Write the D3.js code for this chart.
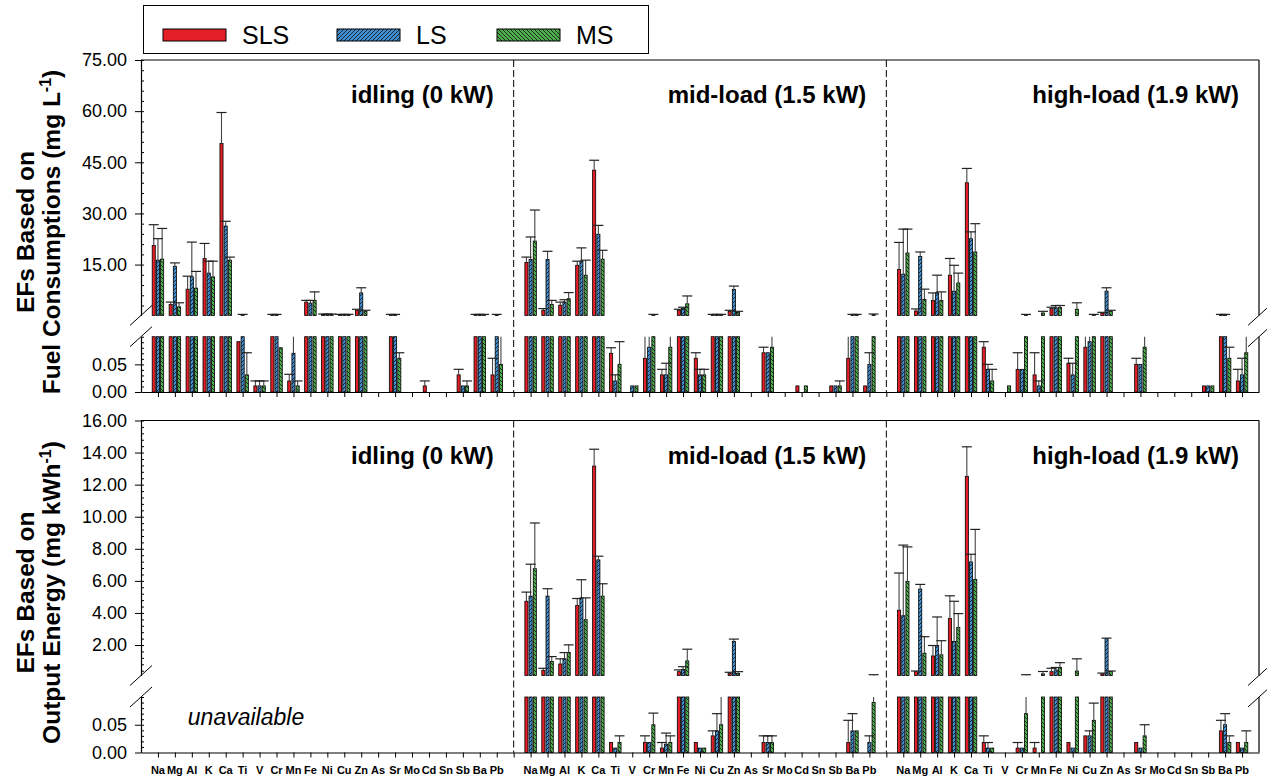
<!DOCTYPE html>
<html>
<head>
<meta charset="utf-8">
<script src="https://cdn.jsdelivr.net/npm/d3@7"></script>
<style>
body { margin: 0; background: #fff; }
svg { display: block; font-family: Arial, "Liberation Sans", sans-serif; }
</style>
</head>
<body>
<div id="chart"></div>
<script>
var width = 1267;
var height = 778;

var elements = ["Na","Mg","Al","K","Ca","Ti","V","Cr","Mn","Fe","Ni","Cu","Zn","As","Sr","Mo","Cd","Sn","Sb","Ba","Pb"];
var loads = ["idling (0 kW)", "mid-load (1.5 kW)", "high-load (1.9 kW)"];
var seriesNames = ["SLS", "LS", "MS"];

// EFs based on fuel consumption (mg L-1): mean and error (sd)
var fuelIdleSLS   = [20.6, 3.3, 7.8, 16.8, 50.5, 0.091, 0.011, 0.3, 0.02, 4.0, 0.4, 0.3, 1.6, 0, 0.3, 0, 0.011, 0, 0.031, 0.3, 0.031];
var fuelIdleSLSsd = [6.1, 0.7, 3.8, 4.4, 9.1, 0, 0.009, 0.1, 0.012, 0.5, 0.1, 0.1, 0.3, 0, 0.1, 0, 0.009, 0, 0.01, 0.1, 0.03];
var fuelIdleLS    = [16.3, 14.5, 11.4, 12.5, 26.3, 0.3, 0.011, 0.3, 0.07, 3.7, 0.4, 0.3, 6.7, 0, 0.3, 0, 0, 0, 0.011, 0.3, 0.3];
var fuelIdleLSsd  = [6.3, 1.0, 10.2, 3.5, 1.4, 0.1, 0.009, 0.1, 0.03, 0.8, 0.1, 0.1, 1.5, 0, 0.1, 0, 0, 0, 0, 0.1, 0.1];
var fuelIdleMS    = [16.6, 2.6, 8.1, 11.4, 16.3, 0.031, 0.011, 0.08, 0.011, 4.5, 0.4, 0.3, 1.3, 0, 0.061, 0, 0, 0, 0.011, 0.3, 0.05];
var fuelIdleMSsd  = [9.0, 1.2, 4.9, 4.6, 0.9, 0.04, 0.009, 0, 0.009, 2.5, 0.1, 0.1, 0.3, 0, 0.01, 0, 0, 0, 0.009, 0.1, 0.05];

var fuelMidSLS   = [15.6, 1.6, 3.1, 14.8, 42.7, 0.07, 0, 0.061, 0.031, 1.6, 0.061, 0.3, 1.3, 0, 0.071, 0, 0.011, 0, 0.011, 0.061, 0.011];
var fuelMidSLSsd = [1.6, 0.5, 0.9, 1.2, 2.9, 0.01, 0, 0.039, 0.01, 0.3, 0.01, 0.1, 0.3, 0, 0.01, 0, 0, 0, 0, 0.039, 0];
var fuelMidLS    = [16.5, 16.5, 4.0, 16.0, 23.9, 0.02, 0.011, 0.081, 0.031, 2.1, 0.031, 0.3, 7.7, 0, 0.071, 0, 0, 0, 0.011, 0.3, 0.05];
var fuelMidLSsd  = [6.6, 2.4, 0.7, 3.9, 2.6, 0.011, 0, 0.019, 0.021, 0.4, 0.01, 0.1, 1.0, 0, 0, 0, 0, 0, 0, 0.1, 0.021];
var fuelMidMS    = [21.9, 3.3, 5.0, 11.9, 16.6, 0.05, 0.011, 0.3, 0.081, 3.5, 0.031, 0.3, 1.0, 0, 0.081, 0, 0.011, 0, 0.011, 0.3, 0.4];
var fuelMidMSsd  = [9.1, 1.2, 1.8, 4.4, 2.6, 0.041, 0, 0.1, 0.019, 2.3, 0.01, 0.1, 0.3, 0, 0.019, 0, 0, 0, 0.009, 0.1, 0.1];

var fuelHighSLS   = [13.6, 1.4, 4.5, 11.9, 39.0, 0.081, 0, 0.041, 0.031, 2.1, 0.052, 0.081, 0.8, 0, 0.05, 0, 0, 0, 0.011, 0.3, 0.02];
var fuelHighSLSsd = [7.9, 0.6, 2.2, 4.9, 4.2, 0.01, 0, 0.03, 0.04, 0.4, 0.009, 0.019, 0.2, 0, 0.011, 0, 0, 0, 0, 0.1, 0.021];
var fuelHighLS    = [12.2, 17.4, 6.7, 7.2, 22.6, 0.041, 0, 0.041, 0.011, 2.3, 0.031, 0.091, 7.2, 0, 0.05, 0, 0, 0, 0.011, 0.3, 0.031];
var fuelHighLSsd  = [13.2, 1.3, 5.2, 7.6, 2.0, 0.009, 0, 0, 0.009, 0.7, 0.021, 0.009, 1.0, 0, 0, 0, 0, 0, 0, 0.1, 0.03];
var fuelHighMS    = [18.4, 4.8, 4.5, 9.6, 18.7, 0.02, 0.011, 0.3, 0.8, 2.4, 1.9, 0.3, 1.3, 0, 0.081, 0, 0, 0, 0.011, 0.061, 0.071];
var fuelHighMSsd  = [7.0, 3.0, 2.5, 2.9, 8.3, 0.021, 0, 0.1, 0.5, 0.6, 1.9, 0.1, 0.3, 0, 0.019, 0, 0, 0, 0, 0.02, 0.029];

// EFs based on output energy (mg kWh-1); idling is unavailable
var energyMidSLS   = [4.73, 0.42, 0.82, 4.46, 13.16, 0.018, 0, 0.018, 0.008, 0.34, 0.018, 0.03, 0.23, 0, 0.018, 0, 0, 0, 0, 0.018, 0];
var energyMidSLSsd = [0.57, 0.13, 0.32, 0.44, 1.05, 0, 0, 0.012, 0.01, 0.11, 0, 0.009, 0.07, 0, 0.012, 0, 0, 0, 0, 0.04, 0];
var energyMidLS    = [5.05, 5.05, 1.14, 4.94, 7.31, 0.008, 0, 0.018, 0.015, 0.48, 0.008, 0.039, 2.22, 0, 0.018, 0, 0, 0, 0, 0.039, 0.018];
var energyMidLSsd  = [1.99, 0.46, 0.39, 1.13, 0.23, 0, 0, 0, 0.02, 0.17, 0, 0.031, 0.15, 0, 0.012, 0, 0, 0, 0, 0.031, 0.012];
var energyMidMS    = [6.76, 0.97, 1.53, 3.58, 5.05, 0.018, 0, 0.05, 0.018, 1.01, 0.008, 0.05, 0.23, 0, 0.018, 0, 0, 0, 0, 0.039, 0.09];
var energyMidMSsd  = [2.85, 0.31, 0.48, 1.36, 0.77, 0.012, 0, 0.021, 0.012, 0.73, 0, 0.05, 0.11, 0, 0.012, 0, 0, 0, 0, 0, 0.06];

var energyHighSLS   = [4.17, 0.34, 1.32, 3.65, 12.52, 0.018, 0, 0.008, 0.008, 0.34, 0.018, 0.03, 0.2, 0, 0.018, 0, 0, 0, 0, 0.039, 0.018];
var energyHighSLSsd = [2.32, 0.04, 0.65, 1.42, 1.84, 0.012, 0, 0.01, 0.01, 0.21, 0, 0, 0.05, 0, 0, 0, 0, 0, 0, 0.019, 0];
var energyHighLS    = [3.83, 5.49, 1.97, 2.22, 7.18, 0.008, 0, 0.008, 0, 0.45, 0.008, 0.03, 2.39, 0, 0.008, 0, 0, 0, 0, 0.05, 0.008];
var energyHighLSsd  = [4.4, 0.29, 1.78, 2.51, 0.48, 0.01, 0, 0, 0, 0.15, 0, 0.009, 0.04, 0, 0, 0, 0, 0, 0, 0.02, 0];
var energyHighMS    = [5.97, 1.49, 1.39, 3.10, 6.09, 0.008, 0, 0.07, 0.2, 0.6, 0.38, 0.058, 0.35, 0, 0.03, 0, 0, 0, 0, 0.018, 0.018];
var energyHighMSsd  = [2.15, 1.03, 0.88, 0.86, 3.12, 0, 0, 0.08, 0.15, 0.3, 0.76, 0.031, 0.03, 0, 0.02, 0, 0, 0, 0, 0.012, 0.021];

var fuelTicks = [15, 30, 45, 60, 75];
var energyTicks = [2, 4, 6, 8, 10, 12, 14, 16];
var lowTicks = [0, 0.05];
var breakValue = 0.1;

var svg = d3.select("#chart")
	.append("svg")
	.attr("width", width)
	.attr("height", height);

// fills: solid red, hatched blue, hatched green
var defs = svg.append("defs");
function hatch(id, color, d) {
	var p = defs.append("pattern")
		.attr("id", id)
		.attr("patternUnits", "userSpaceOnUse")
		.attr("width", 4)
		.attr("height", 4);
	p.append("rect").attr("width", 4).attr("height", 4).attr("fill", color);
	p.append("path").attr("d", d).attr("stroke", "#1a1a1a").attr("stroke-width", 0.9);
}
hatch("hatchLS", "#3d8ed3", "M0,4L4,0M-1,1L1,-1M3,5L5,3");
hatch("hatchMS", "#4caf4c", "M0,0L4,4M-1,3L1,5M3,-1L5,1");
var fills = ["#e41e26", "url(#hatchLS)", "url(#hatchMS)"];

var x = d3.scaleLinear().domain([0, 66]).range([141, 1259]);
var barWidth = 3.1, groupOffset = 4.2, capWidth = 10;

var rows = [
	{ top: 60, upBottom: 315.4, lowTop: 336.7, axis: 392, upMax: 75, ticks: fuelTicks, minor: 3,
	  title: ["EFs Based on", "Fuel Consumptions (mg L", ")"], showLabels: false,
	  data: [
		[[fuelIdleSLS, fuelIdleSLSsd], [fuelIdleLS, fuelIdleLSsd], [fuelIdleMS, fuelIdleMSsd]],
		[[fuelMidSLS, fuelMidSLSsd], [fuelMidLS, fuelMidLSsd], [fuelMidMS, fuelMidMSsd]],
		[[fuelHighSLS, fuelHighSLSsd], [fuelHighLS, fuelHighLSsd], [fuelHighMS, fuelHighMSsd]]
	  ] },
	{ top: 420.5, upBottom: 675.5, lowTop: 697, axis: 752.5, upMax: 16, ticks: energyTicks, minor: 0.4,
	  title: ["EFs Based on", "Output Energy (mg kWh", ")"], showLabels: true,
	  data: [
		null,
		[[energyMidSLS, energyMidSLSsd], [energyMidLS, energyMidLSsd], [energyMidMS, energyMidMSsd]],
		[[energyHighSLS, energyHighSLSsd], [energyHighLS, energyHighLSsd], [energyHighMS, energyHighMSsd]]
	  ] }
];

rows.forEach(function(row) {
	var g = svg.append("g");
	var yUp = d3.scaleLinear().domain([breakValue, row.upMax]).range([row.upBottom, row.top]);
	var yLow = d3.scaleLinear().domain([0, breakValue]).range([row.axis, row.lowTop]);

	// panel dividers
	g.selectAll("line.divider")
		.data([22, 44])
		.enter()
		.append("line")
		.attr("x1", d => x(d)).attr("x2", d => x(d))
		.attr("y1", row.top).attr("y2", row.axis)
		.attr("stroke", "#000")
		.attr("stroke-dasharray", "7,3");

	// collect bars and error bars
	var bars = [];
	row.data.forEach(function(load, l) {
		if (!load) return;
		load.forEach(function(s, si) {
			elements.forEach(function(el, i) {
				var v = s[0][i], e = s[1][i];
				if (v <= 0) return;
				bars.push({ v: v, e: e, s: si, cx: x(l * 22 + i + 1) + (si - 1) * groupOffset });
			});
		});
	});

	// lower segment
	g.append("g").selectAll("rect")
		.data(bars)
		.enter()
		.append("rect")
		.attr("x", d => d.cx - barWidth / 2)
		.attr("y", d => yLow(Math.min(d.v, breakValue)))
		.attr("width", barWidth)
		.attr("height", d => row.axis - yLow(Math.min(d.v, breakValue)))
		.attr("fill", d => fills[d.s])
		.attr("stroke", "#000")
		.attr("stroke-width", 0.8);

	// upper segment
	g.append("g").selectAll("rect")
		.data(bars.filter(d => d.v > breakValue))
		.enter()
		.append("rect")
		.attr("x", d => d.cx - barWidth / 2)
		.attr("y", d => yUp(d.v))
		.attr("width", barWidth)
		.attr("height", d => row.upBottom - yUp(d.v))
		.attr("fill", d => fills[d.s])
		.attr("stroke", "#000")
		.attr("stroke-width", 0.8);

	// error bars
	var errs = bars.filter(d => d.e > 0);
	var segs = [];
	var caps = [];
	errs.forEach(function(d) {
		var top = d.v + d.e;
		if (d.v < breakValue) segs.push({ cx: d.cx, y1: yLow(d.v), y2: yLow(Math.min(top, breakValue)) });
		if (top > breakValue) segs.push({ cx: d.cx, y1: yUp(Math.max(d.v, breakValue)), y2: yUp(top) });
		if (Math.abs(top - breakValue) > 1e-6) caps.push({ cx: d.cx, y: top < breakValue ? yLow(top) : yUp(top) });
	});
	g.append("g").selectAll("line")
		.data(segs)
		.enter()
		.append("line")
		.attr("x1", d => d.cx).attr("x2", d => d.cx)
		.attr("y1", d => d.y1).attr("y2", d => d.y2)
		.attr("stroke", "#444")
		.attr("stroke-width", 1.1);
	g.append("g").selectAll("line")
		.data(caps)
		.enter()
		.append("line")
		.attr("x1", d => d.cx - capWidth / 2).attr("x2", d => d.cx + capWidth / 2)
		.attr("y1", d => d.y).attr("y2", d => d.y)
		.attr("stroke", "#222")
		.attr("stroke-width", 1.2);

	// frame lines
	var frame = g.append("g").attr("stroke", "#000").attr("stroke-width", 1.2);
	frame.append("line").attr("x1", x(0)).attr("x2", x(66)).attr("y1", row.top).attr("y2", row.top);
	frame.append("line").attr("x1", x(66)).attr("x2", x(66)).attr("y1", row.top).attr("y2", row.upBottom);
	frame.append("line").attr("x1", x(66)).attr("x2", x(66)).attr("y1", row.lowTop).attr("y2", row.axis);

	// break marks
	[x(0), x(66)].forEach(function(bx) {
		[row.upBottom, row.lowTop].forEach(function(by) {
			frame.append("line")
				.attr("x1", bx - 11).attr("y1", by + 10)
				.attr("x2", bx + 11).attr("y2", by - 10)
				.attr("stroke-width", 1);
		});
	});

	// y axes
	var fmt = d3.format(".2f");
	var upMinor = d3.range(row.minor, row.upMax + 1e-9, row.minor);
	var lowMinor = d3.range(0.01, 0.1001, 0.01);
	[[yUp, row.ticks, upMinor], [yLow, lowTicks, lowMinor]].forEach(function(a) {
		var ax = g.append("g")
			.attr("transform", "translate(" + x(0) + ",0)")
			.call(d3.axisLeft(a[0]).tickValues(a[1]).tickFormat(fmt).tickSize(6).tickSizeOuter(0).tickPadding(8));
		ax.select(".domain").attr("stroke-width", 1.2);
		ax.selectAll("text").attr("font-size", 18).attr("font-family", "Arial, 'Liberation Sans', sans-serif").attr("fill", "#000");
		g.append("g")
			.attr("transform", "translate(" + x(0) + ",0)")
			.call(d3.axisLeft(a[0]).tickValues(a[2]).tickFormat("").tickSize(-3).tickSizeOuter(0))
			.select(".domain").remove();
	});

	// x axis
	var xa = g.append("g")
		.attr("transform", "translate(0," + row.axis + ")")
		.call(d3.axisBottom(x).tickValues(d3.range(1, 66)).tickFormat("").tickSize(5).tickSizeOuter(0));
	xa.select(".domain").attr("stroke-width", 1.2);

	if (row.showLabels) {
		var labels = [];
		[0, 1, 2].forEach(l => elements.forEach((el, i) => labels.push({ t: el, p: l * 22 + i + 1 })));
		g.append("g").selectAll("text")
			.data(labels)
			.enter()
			.append("text")
			.attr("x", d => x(d.p))
			.attr("y", row.axis + 21)
			.attr("text-anchor", "middle")
			.attr("font-size", 11)
			.attr("font-weight", "bold")
			.attr("font-family", "'Liberation Sans Narrow', 'Arial Narrow', Arial, sans-serif")
			.text(d => d.t);
	}

	// panel titles
	g.append("g").selectAll("text")
		.data(loads)
		.enter()
		.append("text")
		.attr("x", (d, i) => x((i + 1) * 22) - 20)
		.attr("y", row.top + 43)
		.attr("text-anchor", "end")
		.attr("font-size", 24)
		.attr("font-weight", "bold")
		.text(d => d);

	// row title
	var cy = (row.top + row.axis) / 2 + 6;
	var t = g.append("text")
		.attr("transform", "translate(34," + cy + ") rotate(-90)")
		.attr("text-anchor", "middle")
		.attr("font-size", 24.5)
		.attr("font-weight", "bold");
	t.append("tspan").attr("x", 0).attr("dy", 0).text(row.title[0]);
	t.append("tspan").attr("x", 0).attr("dy", 26).text(row.title[1]);
	t.append("tspan").attr("font-size", 16).attr("dy", -9).text("-1");
	t.append("tspan").attr("dy", 9).text(row.title[2]);
});

// unavailable note in idling panel of the energy row
svg.append("text")
	.attr("x", 246)
	.attr("y", 725)
	.attr("text-anchor", "middle")
	.attr("font-size", 23)
	.attr("font-style", "italic")
	.text("unavailable");

// legend
var legend = svg.append("g");
legend.append("rect")
	.attr("x", 143.5).attr("y", 5.5)
	.attr("width", 505).attr("height", 48)
	.attr("fill", "#fff")
	.attr("stroke", "#000")
	.attr("stroke-width", 1);
var items = legend.selectAll("g.item")
	.data(seriesNames)
	.enter()
	.append("g")
	.attr("transform", (d, i) => "translate(" + [163, 337, 497][i] + ",0)");
items.append("rect")
	.attr("y", 29).attr("width", 63).attr("height", 12)
	.attr("fill", (d, i) => fills[i])
	.attr("stroke", "#000")
	.attr("stroke-width", 1);
items.append("text")
	.attr("x", 79).attr("y", 44)
	.attr("font-size", 25)
	.text(d => d);
</script>
</body>
</html>
